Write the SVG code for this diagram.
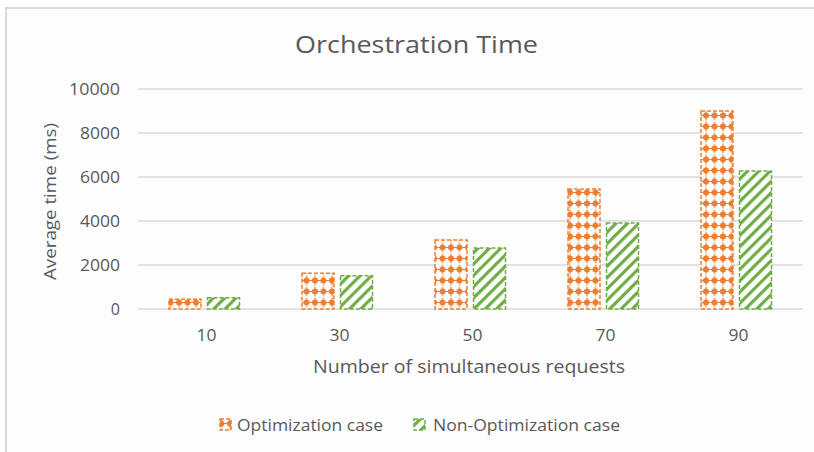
<svg xmlns="http://www.w3.org/2000/svg" width="814" height="452" viewBox="0 0 814 452">
<style>
text{font-family:"Open Sans","Noto Sans","Liberation Sans",sans-serif;fill:#595959}
.tick{font-size:16px;text-anchor:end}
.xt{font-size:16px;text-anchor:middle}
.grid{stroke:#d9d9d9;stroke-width:1.5}
.opt{fill:url(#pOpt);stroke:#ED7D31;stroke-width:1.5;stroke-dasharray:4 2}
.non{fill:url(#pNon);stroke:#70AD47;stroke-width:1.5;stroke-dasharray:4 2}
</style>
<defs>
<pattern id="pOpt" patternUnits="userSpaceOnUse" width="8.5" height="11" x="0.5" y="0">
<rect width="8.5" height="11" fill="#ffffff"/>
<circle cx="0" cy="5.5" r="3" fill="#ED7D31"/>
<circle cx="8.5" cy="5.5" r="3" fill="#ED7D31"/>
<path d="M0 0.5V10.5M8.5 0.5V10.5M-2 5.5H10.5" stroke="#ED7D31" stroke-width="1"/>
</pattern>
<pattern id="pNon" patternUnits="userSpaceOnUse" width="8" height="8" patternTransform="rotate(45)">
<rect width="8" height="8" fill="#ffffff"/>
<rect width="3.2" height="8" fill="#70AD47"/>
</pattern>
</defs>
<rect x="0" y="0" width="814" height="452" fill="#ffffff"/>
<rect x="6" y="8" width="820" height="460" fill="#fdfdfd" stroke="#d9d9d9" stroke-width="2"/>
<text x="295" y="53" font-size="23" textLength="243" lengthAdjust="spacingAndGlyphs">Orchestration Time</text>
<g id="grid">
<line class="grid" x1="138" y1="89" x2="803" y2="89"/>
<line class="grid" x1="138" y1="133" x2="803" y2="133"/>
<line class="grid" x1="138" y1="177" x2="803" y2="177"/>
<line class="grid" x1="138" y1="221" x2="803" y2="221"/>
<line class="grid" x1="138" y1="265" x2="803" y2="265"/>
<line class="grid" x1="138" y1="309" x2="803" y2="309"/>
</g>
<g id="yticks">
<text class="tick" x="120" y="94.5" textLength="51" lengthAdjust="spacingAndGlyphs">10000</text>
<text class="tick" x="120" y="138.5" textLength="40" lengthAdjust="spacingAndGlyphs">8000</text>
<text class="tick" x="120" y="182.5" textLength="40" lengthAdjust="spacingAndGlyphs">6000</text>
<text class="tick" x="120" y="226.5" textLength="40" lengthAdjust="spacingAndGlyphs">4000</text>
<text class="tick" x="120" y="270.5" textLength="40" lengthAdjust="spacingAndGlyphs">2000</text>
<text class="tick" x="120" y="314.5">0</text>
</g>
<text transform="translate(56,280) rotate(-90)" font-size="17" textLength="157" lengthAdjust="spacingAndGlyphs">Average time (ms)</text>
<g id="bars">
<rect class="opt" x="169" y="299.3" width="32" height="9.7"/>
<rect class="non" x="207.5" y="297.7" width="32" height="11.3"/>
<rect class="opt" x="302" y="273.3" width="32" height="35.7"/>
<rect class="non" x="340.5" y="275.7" width="32" height="33.3"/>
<rect class="opt" x="435" y="240" width="32" height="69"/>
<rect class="non" x="473.5" y="248" width="32" height="61"/>
<rect class="opt" x="568" y="189" width="32" height="120"/>
<rect class="non" x="606.5" y="223" width="32" height="86"/>
<rect class="opt" x="701" y="111" width="32" height="198"/>
<rect class="non" x="739.5" y="171" width="32" height="138"/>
</g>
<g id="xticks">
<text class="xt" x="206.5" y="341" textLength="20" lengthAdjust="spacingAndGlyphs">10</text>
<text class="xt" x="339.5" y="341" textLength="20" lengthAdjust="spacingAndGlyphs">30</text>
<text class="xt" x="472.5" y="341" textLength="20" lengthAdjust="spacingAndGlyphs">50</text>
<text class="xt" x="605.5" y="341" textLength="20" lengthAdjust="spacingAndGlyphs">70</text>
<text class="xt" x="738.5" y="341" textLength="20" lengthAdjust="spacingAndGlyphs">90</text>
</g>
<text x="313" y="373" font-size="18" textLength="312" lengthAdjust="spacingAndGlyphs">Number of simultaneous requests</text>
<g id="legend">
<rect class="opt" x="220" y="419" width="11" height="11"/>
<text x="237" y="431" font-size="17" textLength="146" lengthAdjust="spacingAndGlyphs">Optimization case</text>
<rect class="non" x="414" y="419" width="11" height="11"/>
<text x="433" y="431" font-size="17" textLength="187" lengthAdjust="spacingAndGlyphs">Non-Optimization case</text>
</g>
</svg>
